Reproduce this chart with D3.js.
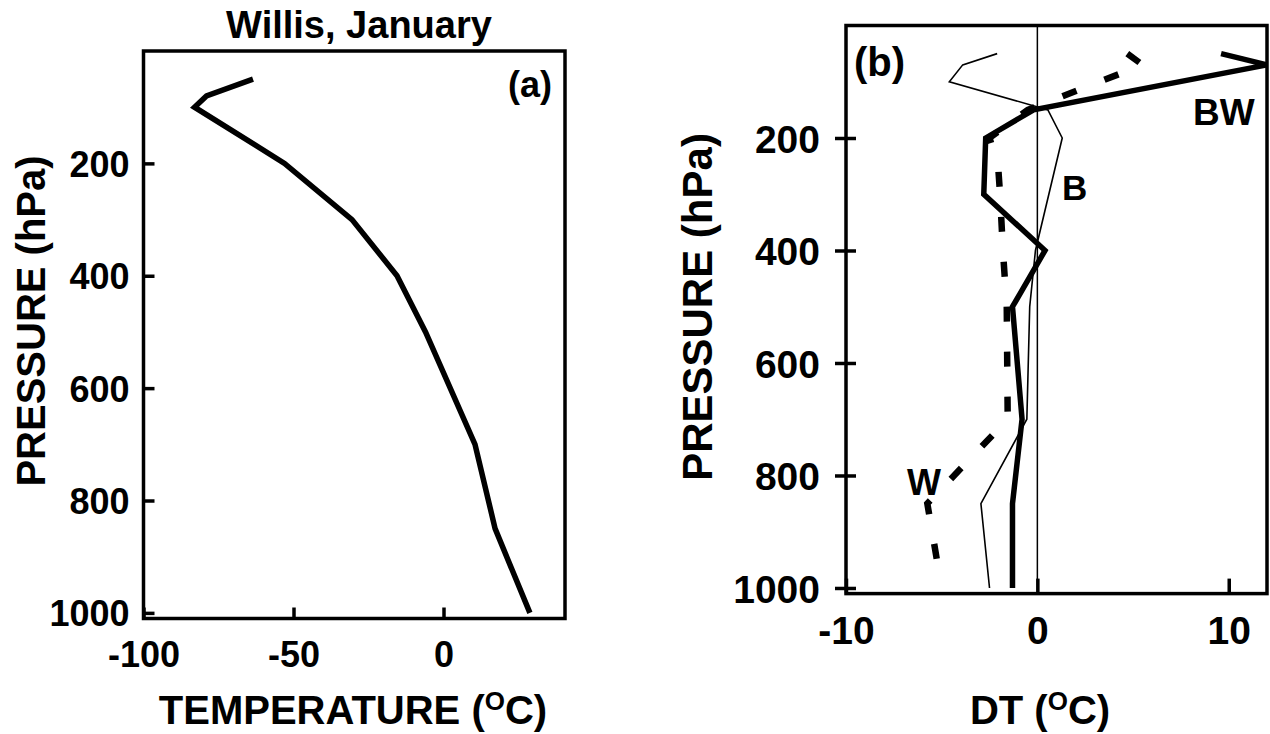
<!DOCTYPE html>
<html>
<head>
<meta charset="utf-8">
<script src="https://cdn.jsdelivr.net/npm/d3@7"></script>
<style>
  html, body { margin: 0; padding: 0; background: #fff; }
  svg text { font-family: "Liberation Sans", Arial, Helvetica, sans-serif; font-weight: bold; fill: #000; }
</style>
</head>
<body>
<svg id="chart" width="1270" height="734"></svg>
<script>
// ---------- data ----------
// Panel (a): Willis, January mean temperature profile
const levelsA = [50, 80, 100, 200, 300, 400, 500, 700, 850, 1000];
const tempA   = [-63.5, -79, -83, -53, -30.5, -15.5, -6, 10.5, 17.2, 28.8];

// Panel (b): temperature differences DT
const levelsBW = [50, 70, 150, 200, 300, 400, 500, 700, 850, 1000];
const dtBW     = [9.6, 12.0, -0.2, -2.7, -2.8, 0.4, -1.3, -0.8, -1.3, -1.3];

const levelsB = [50, 70, 100, 150, 200, 400, 500, 700, 850, 1000];
const dtB     = [-2.1, -3.9, -4.6, 0.55, 1.3, -0.1, -0.4, -0.55, -2.95, -2.5];

const levelsW = [50, 70, 150, 200, 250, 300, 400, 500, 700, 850, 1000];
const dtW     = [4.7, 5.5, -0.5, -2.5, -2.05, -1.95, -1.8, -1.6, -1.55, -5.75, -5.0];

const pressureTicks = [200, 400, 600, 800, 1000];
const tempTicks = [-100, -50, 0];
const dtTicks = [-10, 0, 10];

// ---------- drawing ----------
const svg = d3.select("#chart");
const fmt = d => String(d);   // plain hyphen minus like the reference

function zip(levels, vals) { return levels.map((p, i) => ({p: p, v: vals[i]})); }

// ===== Panel (a) =====
const xA = d3.scaleLinear().domain([-100, 40.5]).range([143.5, 565]);
const yA = d3.scaleLinear().domain([0, 1010]).range([51, 618.5]);

const gA = svg.append("g");

const axA_y = d3.axisRight(yA).tickValues(pressureTicks).tickSize(11).tickFormat(fmt);
const gAy = gA.append("g").attr("transform", `translate(${xA.range()[0]},0)`).call(axA_y);
gAy.select(".domain").remove();
gAy.selectAll(".tick line").attr("stroke", "#000").attr("stroke-width", 3.5);
gAy.selectAll(".tick text").attr("x", -14).attr("text-anchor", "end").attr("dy", "0.36em")
   .style("font-size", "36px");

const axA_x = d3.axisTop(xA).tickValues(tempTicks).tickSize(11).tickFormat(fmt);
const gAx = gA.append("g").attr("transform", `translate(0,${yA.range()[1]})`).call(axA_x);
gAx.select(".domain").remove();
gAx.selectAll(".tick line").attr("stroke", "#000").attr("stroke-width", 3.5);
gAx.selectAll(".tick text").attr("y", 48).attr("dy", 0).attr("text-anchor", "middle")
   .style("font-size", "36px");

gA.append("rect")
  .attr("x", xA.range()[0]).attr("y", yA.range()[0])
  .attr("width", xA.range()[1] - xA.range()[0]).attr("height", yA.range()[1] - yA.range()[0])
  .attr("fill", "none").attr("stroke", "#000").attr("stroke-width", 3.5);

const lineA = d3.line().x(d => xA(d.v)).y(d => yA(d.p));
gA.append("path").datum(zip(levelsA, tempA))
  .attr("d", lineA).attr("fill", "none").attr("stroke", "#000")
  .attr("stroke-width", 5.5).attr("stroke-linejoin", "miter");

gA.append("text").attr("x", 359).attr("y", 38).attr("text-anchor", "middle")
  .style("font-size", "38px").text("Willis, January");
gA.append("text").attr("x", 552).attr("y", 97).attr("text-anchor", "end")
  .style("font-size", "36px").text("(a)");
gA.append("text").attr("transform", "translate(45,321) rotate(-90)").attr("text-anchor", "middle")
  .style("font-size", "40px").text("PRESSURE (hPa)");
const tA = gA.append("text").attr("x", 353).attr("y", 724).attr("text-anchor", "middle")
  .style("font-size", "40px");
tA.append("tspan").text("TEMPERATURE (");
tA.append("tspan").attr("dy", -14).style("font-size", "26px").text("O");
tA.append("tspan").attr("dy", 14).text("C)");

// ===== Panel (b) =====
const xB = d3.scaleLinear().domain([-10, 12]).range([846, 1267]);
const yB = d3.scaleLinear().domain([0, 1010]).range([25.5, 593.6]);

const gB = svg.append("g");

const axB_y = d3.axisLeft(yB).tickValues(pressureTicks).tickSizeInner(12).tickFormat(fmt);
const gBy = gB.append("g").attr("transform", `translate(${xB.range()[0]},0)`).call(axB_y);
gBy.select(".domain").remove();
gBy.selectAll(".tick line").attr("x1", 10).attr("x2", -11).attr("stroke", "#000").attr("stroke-width", 3.5);
gBy.selectAll(".tick text").attr("x", -26).attr("text-anchor", "end").attr("dy", "0.36em")
   .style("font-size", "39px");

const axB_x = d3.axisTop(xB).tickValues(dtTicks).tickSize(15).tickFormat(fmt);
const gBx = gB.append("g").attr("transform", `translate(0,${yB.range()[1]})`).call(axB_x);
gBx.select(".domain").remove();
gBx.selectAll(".tick line").attr("stroke", "#000").attr("stroke-width", 3.5);
gBx.selectAll(".tick text").attr("y", 50).attr("dy", 0).attr("text-anchor", "middle")
   .style("font-size", "39px");

gB.append("line").attr("x1", xB(0)).attr("x2", xB(0))
  .attr("y1", yB.range()[0]).attr("y2", yB.range()[1])
  .attr("stroke", "#000").attr("stroke-width", 1.5);

gB.append("rect")
  .attr("x", xB.range()[0]).attr("y", yB.range()[0])
  .attr("width", xB.range()[1] - xB.range()[0]).attr("height", yB.range()[1] - yB.range()[0])
  .attr("fill", "none").attr("stroke", "#000").attr("stroke-width", 3.5);

const lineB = d3.line().x(d => xB(d.v)).y(d => yB(d.p));
gB.append("path").datum(zip(levelsB, dtB)).attr("d", lineB)
  .attr("fill", "none").attr("stroke", "#000").attr("stroke-width", 1.6);
gB.append("path").datum(zip(levelsW, dtW)).attr("d", lineB)
  .attr("fill", "none").attr("stroke", "#000").attr("stroke-width", 6.5)
  .attr("stroke-dasharray", "15,30");
gB.append("path").datum(zip(levelsBW, dtBW)).attr("d", lineB)
  .attr("fill", "none").attr("stroke", "#000").attr("stroke-width", 5.5)
  .attr("stroke-linejoin", "miter");

gB.append("text").attr("x", 854).attr("y", 76).style("font-size", "40px").text("(b)");
gB.append("text").attr("x", 1193).attr("y", 125).style("font-size", "37px").text("BW");
gB.append("text").attr("x", 1062).attr("y", 200).style("font-size", "35px").text("B");
gB.append("text").attr("x", 907).attr("y", 495).style("font-size", "36px").text("W");
gB.append("text").attr("transform", "translate(712,307) rotate(-90)").attr("text-anchor", "middle")
  .style("font-size", "42px").text("PRESSURE (hPa)");
const tB = gB.append("text").attr("x", 1040).attr("y", 724).attr("text-anchor", "middle")
  .style("font-size", "40px");
tB.append("tspan").text("DT (");
tB.append("tspan").attr("dy", -14).style("font-size", "26px").text("O");
tB.append("tspan").attr("dy", 14).text("C)");
</script>
</body>
</html>
